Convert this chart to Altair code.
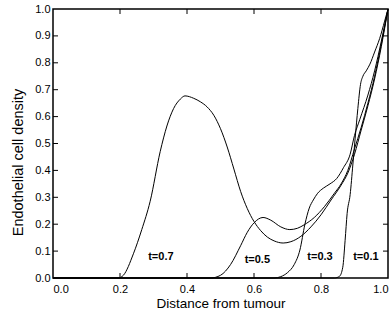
import altair as alt
import pandas as pd

# Curves (distance, density)
t01_x = [0.0, 0.84, 0.855, 0.865, 0.872, 0.878, 0.887, 0.895, 0.902, 0.91, 0.918, 0.925, 0.935, 0.946, 0.96, 0.975, 0.99, 1.0]
t01_y = [0.0, 0.0, 0.006, 0.04, 0.14, 0.24, 0.31, 0.42, 0.52, 0.63, 0.72, 0.75, 0.77, 0.795, 0.84, 0.89, 0.955, 1.0]

t03_x = [0.0, 0.66, 0.68, 0.70, 0.72, 0.737, 0.752, 0.765, 0.777, 0.79, 0.807, 0.827, 0.847, 0.867, 0.887, 0.90, 0.916, 0.94, 0.96, 0.98, 1.0]
t03_y = [0.0, 0.0, 0.005, 0.02, 0.05, 0.104, 0.2, 0.26, 0.29, 0.315, 0.334, 0.35, 0.37, 0.41, 0.46, 0.53, 0.59, 0.68, 0.77, 0.88, 1.0]

t05_x = [0.0, 0.47, 0.50, 0.53, 0.56, 0.58, 0.60, 0.627, 0.65, 0.68, 0.707, 0.73, 0.75, 0.78, 0.81, 0.84, 0.86, 0.88, 0.90, 0.92, 0.94, 0.96, 0.98, 1.0]
t05_y = [0.0, 0.0, 0.01, 0.05, 0.12, 0.17, 0.205, 0.225, 0.215, 0.19, 0.18, 0.185, 0.198, 0.225, 0.265, 0.315, 0.35, 0.40, 0.48, 0.56, 0.65, 0.75, 0.87, 1.0]

t07_x = [0.0, 0.195, 0.21, 0.24, 0.265, 0.29, 0.32, 0.34, 0.36, 0.38, 0.394, 0.42, 0.44, 0.46, 0.48, 0.50, 0.52, 0.54, 0.56, 0.58, 0.60, 0.62, 0.64, 0.66, 0.687, 0.71, 0.74, 0.77, 0.80, 0.83, 0.86, 0.88, 0.90, 0.92, 0.94, 0.96, 0.98, 1.0]
t07_y = [0.0, 0.0, 0.01, 0.09, 0.18, 0.285, 0.47, 0.565, 0.63, 0.665, 0.677, 0.668, 0.655, 0.636, 0.605, 0.555, 0.487, 0.405, 0.322, 0.258, 0.21, 0.176, 0.152, 0.138, 0.13, 0.135, 0.155, 0.19, 0.235, 0.29, 0.345, 0.39, 0.46, 0.55, 0.64, 0.74, 0.86, 1.0]

label_text = ["t=0.7", "t=0.5", "t=0.3", "t=0.1"]
label_x = [0.322, 0.61, 0.797, 0.934]
label_y = [0.078, 0.067, 0.078, 0.078]

x_ticks = [0.0, 0.2, 0.4, 0.6, 0.8, 1.0]
y_ticks = [0.0, 0.1, 0.2, 0.3, 0.4, 0.5, 0.6, 0.7, 0.8, 0.9, 1.0]
x_minor = [0.2, 0.4, 0.6, 0.8]
y_minor = [0.1, 0.2, 0.3, 0.4, 0.5, 0.6, 0.7, 0.8, 0.9]

W, H = 335, 269
FONT = "Liberation Sans"

rows = []
for name, xs, ys in [("t=0.1", t01_x, t01_y), ("t=0.3", t03_x, t03_y),
                     ("t=0.5", t05_x, t05_y), ("t=0.7", t07_x, t07_y)]:
    for a, b in zip(xs, ys):
        rows.append({"series": name, "x": a, "y": b})
df = pd.DataFrame(rows)
labels = pd.DataFrame({"label": label_text, "x": label_x, "y": label_y})
xt = pd.DataFrame({"x": x_minor})
yt = pd.DataFrame({"y": y_minor})

xscale = alt.Scale(domain=[0, 1], nice=False, zero=False)
yscale = alt.Scale(domain=[0, 1], nice=False, zero=False)

xaxis = alt.Axis(values=x_ticks, format=".1f", ticks=False, tickSize=0, domain=False, grid=False,
                 labelOverlap=False, labelFontSize=11, labelFont=FONT, labelPadding=5, labelColor="black",
                 title="Distance from tumour", titleFont=FONT, titleFontSize=13.5,
                 titleFontWeight="normal", titleColor="black", titleBaseline="top", titleY=18)
yaxis = alt.Axis(values=y_ticks, format=".1f", ticks=False, tickSize=0, domain=False, grid=False,
                 labelOverlap=False, labelFontSize=11, labelFont=FONT, labelPadding=3, labelColor="black",
                 title="Endothelial cell density", titleFont=FONT, titleFontSize=14.5,
                 titleFontWeight="normal", titleColor="black", titleBaseline="bottom",
                 titleX=-28, titleY=153, titleAngle=-90, titleAlign="center")

X = alt.X("x:Q", scale=xscale, axis=xaxis)
Y = alt.Y("y:Q", scale=yscale, axis=yaxis)

lines = alt.Chart(df).mark_line(interpolate="monotone", color="black", strokeWidth=1).encode(
    x=X, y=Y, detail="series:N",
)

text = alt.Chart(labels).mark_text(font=FONT, fontSize=11, fontWeight="bold", color="black").encode(
    x=X, y=Y, text="label:N",
)

tick_bottom = alt.Chart(xt).mark_rule(color="black", strokeWidth=1).encode(
    x=X, y=alt.value(H), y2=alt.value(H - 5))
tick_top = alt.Chart(xt).mark_rule(color="black", strokeWidth=1).encode(
    x=X, y=alt.value(0), y2=alt.value(5))
tick_left = alt.Chart(yt).mark_rule(color="black", strokeWidth=1).encode(
    y=Y, x=alt.value(0), x2=alt.value(5))
tick_right = alt.Chart(yt).mark_rule(color="black", strokeWidth=1).encode(
    y=Y, x=alt.value(W), x2=alt.value(W - 5))

chart = alt.layer(lines, text, tick_bottom, tick_top, tick_left, tick_right).properties(
    width=W, height=H,
    autosize=alt.AutoSizeParams(type="none"),
    padding={"left": 53, "top": 9, "right": 4, "bottom": 42},
    background="white",
).configure_view(stroke="black", strokeWidth=1.5)

chart.save("out.html", embed_options={"renderer": "svg", "actions": False})
